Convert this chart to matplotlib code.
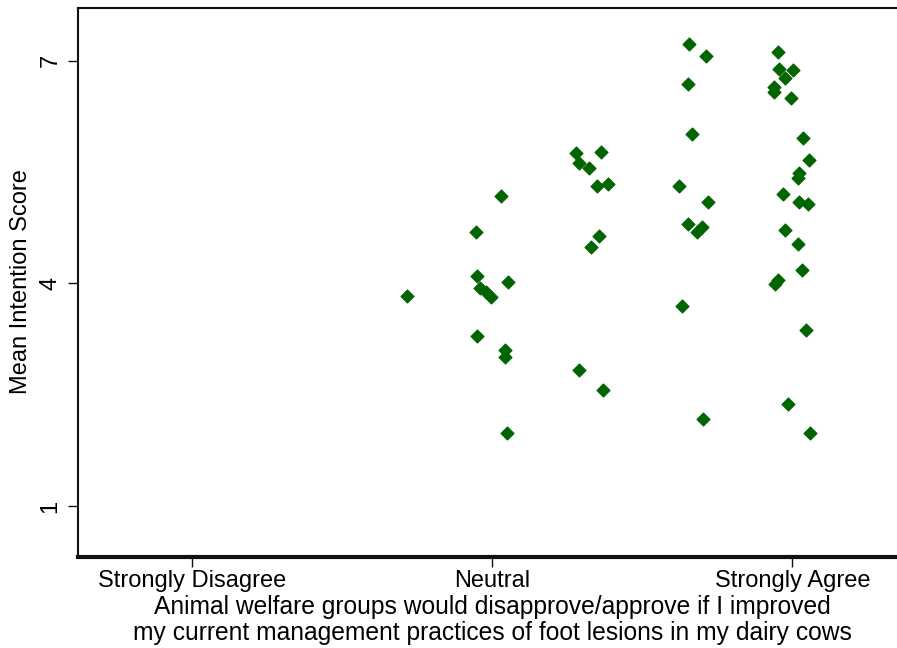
import matplotlib
matplotlib.use("Agg")
import matplotlib.pyplot as plt

# ---- data ----
x_vals = [2.433,
          3.058, 2.889, 2.898, 2.918, 2.958, 2.991, 3.103, 2.900, 3.087, 3.087, 3.100,
          3.556, 3.580, 3.647, 3.725, 3.700, 3.769, 3.713, 3.658, 3.580, 3.740,
          4.313, 4.423, 4.303, 4.329, 4.247, 4.436, 4.303, 4.367, 4.396, 4.263, 4.407,
          4.903, 4.913, 4.951, 5.007, 4.878, 4.878, 4.991, 5.073, 5.113, 5.047, 5.036,
          4.940, 5.047, 5.107, 4.951, 5.040, 5.063, 4.907, 4.885, 5.091, 4.969, 5.118]
y_vals = [3.828,
          5.176, 4.690, 4.097, 3.935, 3.881, 3.814, 4.012, 3.288, 3.099, 3.009, 1.990,
          5.752, 5.617, 5.549, 5.769, 5.311, 5.338, 4.636, 4.492, 2.830, 2.560,
          7.225, 7.067, 6.686, 6.012, 5.315, 5.095, 4.798, 4.694, 4.754, 3.693, 2.179,
          7.113, 6.884, 6.763, 6.875, 6.645, 6.578, 6.493, 5.962, 5.661, 5.482, 5.414,
          5.203, 5.099, 5.068, 4.717, 4.529, 4.178, 4.043, 3.989, 3.369, 2.371, 1.984]

x_ticks = [1, 3, 5]
x_tick_labels = ["Strongly Disagree", "Neutral", "Strongly Agree"]
y_ticks = [1, 4, 7]
y_tick_labels = ["1", "4", "7"]
x_title = ("Animal welfare groups would disapprove/approve if I improved\n"
           "my current management practices of foot lesions in my dairy cows")
y_title = "Mean Intention Score"

# ---- figure ----
W, H = 897, 648
fig = plt.figure(figsize=(W / 100, H / 100), dpi=100)
fig.patch.set_facecolor("white")
plt.rcParams['font.family'] = ['Liberation Sans', 'DejaVu Sans']

left_px, right_px, top_px, bottom_px = 77.7, 906.9, 8.0, 556.5
ax = fig.add_axes([left_px / W, 1 - bottom_px / H,
                   (right_px - left_px) / W, (bottom_px - top_px) / H])
ax.set_xlim(0.236, 5.764)
ax.set_ylim(0.32, 7.71)

ax.scatter(x_vals, y_vals, marker='D', s=44, color='#006400',
           edgecolors='#006400', linewidths=0.8, zorder=3)

ax.spines['right'].set_visible(False)
ax.spines['left'].set_linewidth(1.5)
ax.spines['top'].set_linewidth(1.5)
ax.spines['bottom'].set_linewidth(3.0)
for s in ax.spines.values():
    s.set_color('#111111')

fs = 17
ax.set_xticks(x_ticks)
ax.set_xticklabels(x_tick_labels, fontsize=fs)
ax.set_yticks(y_ticks)
ax.set_yticklabels(y_tick_labels, fontsize=fs, rotation=90, va='center')
ax.tick_params(axis='both', length=7.5, width=1.0, color='#111111')
ax.tick_params(axis='x', pad=2)
ax.tick_params(axis='y', pad=4)

fig.text(492 / W, 1 - 620 / H, x_title, ha='center', va='center',
         fontsize=17.7, linespacing=1.08)
fig.text(21 / W, 1 - 282 / H, y_title, ha='center', va='center',
         rotation=90, fontsize=fs)

fig.savefig("out.png", dpi=100)
